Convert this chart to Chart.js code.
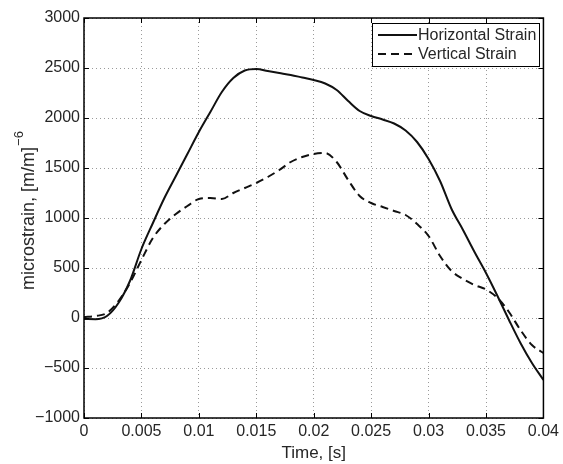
<!DOCTYPE html>
<html>
<head>
<meta charset="utf-8">
<script src="https://cdn.jsdelivr.net/npm/chart.js@4/dist/chart.umd.min.js"></script>
<style>
  html, body { margin: 0; padding: 0; background: #fff; }
  #wrap { width: 563px; height: 464px; }
</style>
</head>
<body>
<div id="wrap"><canvas id="strainChart" width="563" height="464"></canvas></div>
<script>
const times = [0, 0.001, 0.002, 0.003, 0.004, 0.005, 0.006, 0.007, 0.008, 0.009,
  0.010, 0.011, 0.012, 0.013, 0.014, 0.015, 0.016, 0.017, 0.018, 0.019,
  0.020, 0.021, 0.022, 0.023, 0.024, 0.025, 0.026, 0.027, 0.028, 0.029,
  0.030, 0.031, 0.032, 0.033, 0.034, 0.035, 0.036, 0.037, 0.038, 0.039, 0.040]
const horizontalStrain = [-10, -12, 20, 150, 370, 690, 950, 1200, 1420, 1640,
  1860, 2060, 2260, 2400, 2475, 2490, 2470, 2450, 2430, 2405,
  2380, 2345, 2280, 2170, 2070, 2020, 1985, 1945, 1875, 1760,
  1590, 1370, 1090, 880, 660, 450, 220, -20, -250, -450, -620]
const verticalStrain = [10, 20, 50, 170, 350, 580, 800, 940, 1040, 1120,
  1190, 1200, 1190, 1250, 1300, 1350, 1410, 1480, 1560, 1610,
  1640, 1650, 1560, 1380, 1220, 1150, 1110, 1070, 1030, 940,
  820, 620, 470, 390, 330, 285, 200, 60, -120, -270, -350]
const seriesNames = ["Horizontal Strain", "Vertical Strain"]
const yTitle = "microstrain, [m/m]"
const yTitleExp = "\u22126"
const fontFamily = "'Liberation Sans', Arial, sans-serif"
const textColor = "#262626"

function points(ys) {
  return times.map((t, i) => ({ x: t, y: ys[i] }))
}

// box around the plot, inward tick marks, y title with exponent, legend inside top right
const matlabFrame = {
  id: "matlabFrame",
  afterDraw(chart) {
    const { ctx, chartArea: a, scales } = chart
    ctx.save()
    ctx.strokeStyle = "#000"
    ctx.lineWidth = 1
    ctx.beginPath()
    scales.x.ticks.forEach(t => {
      const px = Math.round(scales.x.getPixelForValue(t.value)) + 0.5
      ctx.moveTo(px, a.bottom); ctx.lineTo(px, a.bottom - 5)
      ctx.moveTo(px, a.top); ctx.lineTo(px, a.top + 5)
    })
    scales.y.ticks.forEach(t => {
      const py = Math.round(scales.y.getPixelForValue(t.value)) + 0.5
      ctx.moveTo(a.left, py); ctx.lineTo(a.left + 5, py)
      ctx.moveTo(a.right, py); ctx.lineTo(a.right - 5, py)
    })
    ctx.stroke()
    ctx.lineWidth = 1.5
    ctx.strokeRect(a.left, a.top, a.right - a.left, a.bottom - a.top)

    // y title
    ctx.fillStyle = textColor
    ctx.textBaseline = "middle"
    ctx.textAlign = "left"
    ctx.font = "18px " + fontFamily
    const wMain = ctx.measureText(yTitle).width
    ctx.font = "13px " + fontFamily
    const wExp = ctx.measureText(yTitleExp).width
    ctx.translate(29, 211)
    ctx.rotate(-Math.PI / 2)
    const start = -(wMain + wExp) / 2
    ctx.font = "18px " + fontFamily
    ctx.fillText(yTitle, start, 0)
    ctx.font = "13px " + fontFamily
    ctx.fillText(yTitleExp, start + wMain + 1, -10)
    ctx.setTransform(1, 0, 0, 1, 0, 0)

    // legend
    const bx = 372, by = 23, bw = 167, bh = 43
    ctx.fillStyle = "#fff"
    ctx.fillRect(bx, by, bw, bh)
    ctx.strokeStyle = "#000"
    ctx.lineWidth = 1
    ctx.strokeRect(bx + 0.5, by + 0.5, bw, bh)
    ctx.font = "16px " + fontFamily
    ctx.textBaseline = "middle"
    chart.data.datasets.forEach((ds, i) => {
      const y = by + 12 + i * 19
      ctx.strokeStyle = ds.borderColor
      ctx.lineWidth = 2
      ctx.setLineDash(ds.borderDash || [])
      ctx.beginPath()
      ctx.moveTo(bx + 6, y); ctx.lineTo(bx + 45, y)
      ctx.stroke()
      ctx.setLineDash([])
      ctx.fillStyle = textColor
      ctx.fillText(ds.label, bx + 46, y + 1)
    })
    ctx.restore()
  }
}

new Chart(document.getElementById("strainChart"), {
  type: "line",
  data: {
    datasets: [
      {
        label: seriesNames[0],
        data: points(horizontalStrain),
        borderColor: "#111",
        borderWidth: 2,
        pointRadius: 0,
        cubicInterpolationMode: "monotone",
        fill: false
      },
      {
        label: seriesNames[1],
        data: points(verticalStrain),
        borderColor: "#111",
        borderWidth: 2,
        borderDash: [8, 5],
        pointRadius: 0,
        cubicInterpolationMode: "monotone",
        fill: false
      }
    ]
  },
  options: {
    responsive: false,
    animation: false,
    layout: { padding: { left: 0, top: 18, right: 19, bottom: 0 } },
    plugins: {
      legend: { display: false },
      tooltip: { enabled: false }
    },
    scales: {
      x: {
        type: "linear",
        min: 0,
        max: 0.04,
        afterFit: s => { s.height = 46 },
        ticks: {
          stepSize: 0.005,
          padding: 4,
          color: textColor,
          font: { family: fontFamily, size: 16 },
          callback: v => String(parseFloat(v.toFixed(3)))
        },
        grid: { color: "#9a9a9a", lineWidth: 1, drawTicks: false },
        border: { display: false, dash: [1, 3] },
        title: {
          display: true,
          text: "Time, [s]",
          color: textColor,
          font: { family: fontFamily, size: 17 },
          padding: { top: 0, bottom: 0 }
        }
      },
      y: {
        min: -1000,
        max: 3000,
        afterFit: s => { s.width = 84 },
        ticks: {
          stepSize: 500,
          padding: 4,
          color: textColor,
          font: { family: fontFamily, size: 16 },
          callback: v => String(v).replace("-", "\u2212")
        },
        grid: { color: "#9a9a9a", lineWidth: 1, drawTicks: false },
        border: { display: false, dash: [1, 3] },
        title: { display: false }
      }
    }
  },
  plugins: [matlabFrame]
})
</script>
</body>
</html>
